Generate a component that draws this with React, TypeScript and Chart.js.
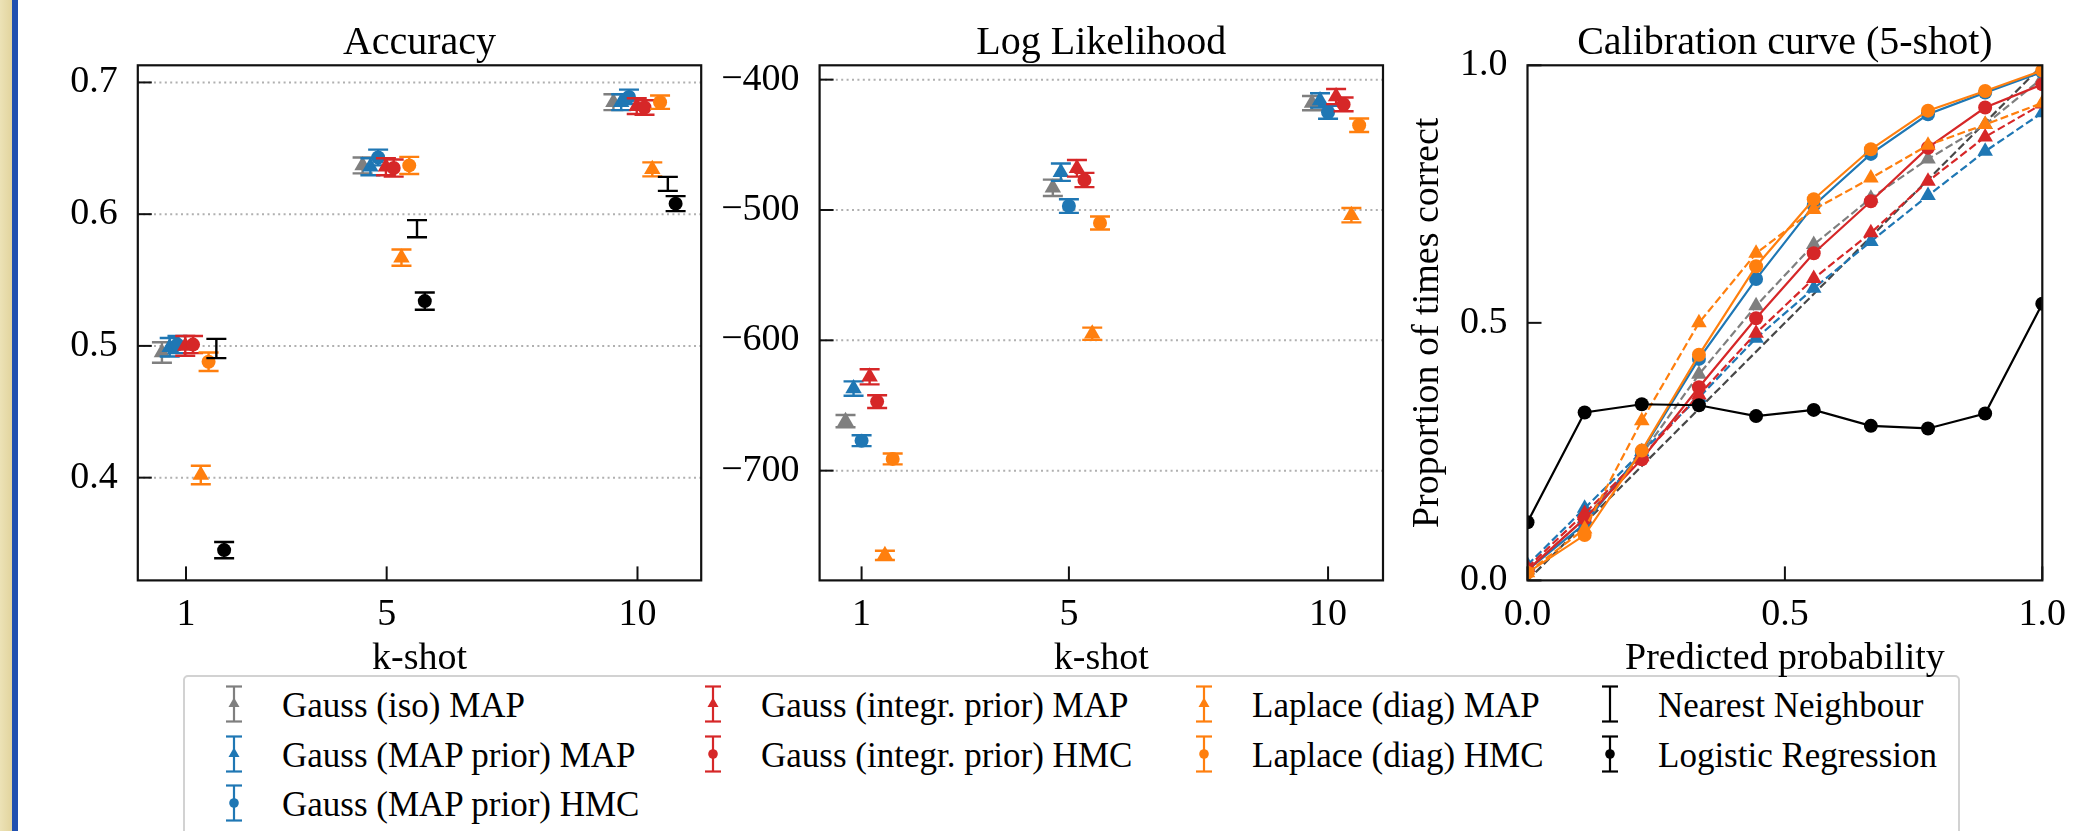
import React, { useEffect, useRef } from 'react';
import { Chart, registerables } from 'chart.js';

Chart.register(...registerables);

const FONT = "'Liberation Serif', 'Times New Roman', Times, serif";
const GRAY = '#7f7f7f';
const BLUE = '#1f77b4';
const RED = '#d62728';
const ORANGE = '#ff7f0e';
const BLACK = '#000000';

// ---------------- data ----------------
const kShots = [1, 5, 10];
const accOffsets = [-0.48, -0.325, -0.17, -0.015, 0.14, 0.295, 0.45, 0.605, 0.76];
const llOffsets = [-0.31, -0.155, 0, 0.155, 0.3, 0.45, 0.6];

const kShotTicks = [1, 5, 10];
const accYTicks = [0.4, 0.5, 0.6, 0.7];
const llYTicks = [-700, -600, -500, -400];
const calTicks = [0, 0.5, 1];

const seriesLabels = [
  'Gauss (iso) MAP',
  'Gauss (MAP prior) MAP',
  'Gauss (MAP prior) HMC',
  'Gauss (integr. prior) MAP',
  'Gauss (integr. prior) HMC',
  'Laplace (diag) MAP',
  'Laplace (diag) HMC',
  'Nearest Neighbour',
  'Logistic Regression',
];

// Accuracy (k = 1, 5, 10)
const accGaussIsoMap = [0.495, 0.637, 0.685];
const accGaussMapPriorMap = [0.499, 0.636, 0.685];
const accGaussMapPriorHmc = [0.501, 0.643, 0.689];
const accGaussIntegrMap = [0.5, 0.636, 0.682];
const accGaussIntegrHmc = [0.501, 0.635, 0.681];
const accLaplaceMap = [0.402, 0.567, 0.634];
const accLaplaceHmc = [0.488, 0.637, 0.685];
const accNearestNeighbour = [0.498, 0.589, 0.623];
const accLogReg = [0.345, 0.534, 0.608];

const accErrGaussIsoMap = [0.0078, 0.006, 0.006];
const accErrGaussMapPriorMap = [0.007, 0.0065, 0.006];
const accErrGaussMapPriorHmc = [0.0065, 0.006, 0.0055];
const accErrGaussIntegrMap = [0.0075, 0.0065, 0.006];
const accErrGaussIntegrHmc = [0.0065, 0.0065, 0.0055];
const accErrLaplaceMap = [0.007, 0.0062, 0.0053];
const accErrLaplaceHmc = [0.007, 0.0065, 0.0051];
const accErrNearestNeighbour = [0.0073, 0.0065, 0.0053];
const accErrLogReg = [0.0062, 0.0065, 0.0057];

// Log likelihood (k = 1, 5, 10)
const llGaussIsoMap = [-662, -483, -418];
const llGaussMapPriorMap = [-637, -471, -416];
const llGaussMapPriorHmc = [-677, -497, -425];
const llGaussIntegrMap = [-628, -468, -413];
const llGaussIntegrHmc = [-647, -477, -419];
const llLaplaceMap = [-765, -595, -504];
const llLaplaceHmc = [-691, -510, -435];

const llErrGaussIsoMap = [4.7, 6.3, 5.5];
const llErrGaussMapPriorMap = [5.5, 6.7, 5.5];
const llErrGaussMapPriorHmc = [4.2, 5.2, 5.0];
const llErrGaussIntegrMap = [5.8, 6.4, 5.8];
const llErrGaussIntegrHmc = [4.9, 5.5, 5.3];
const llErrLaplaceMap = [3.5, 4.7, 5.5];
const llErrLaplaceHmc = [4.2, 5.0, 5.2];

// Calibration curve (5-shot)
const calBins = [0, 0.111, 0.222, 0.333, 0.444, 0.556, 0.667, 0.778, 0.889, 1.0];
const calGaussIsoMap = [0.02, 0.12, 0.245, 0.4, 0.533, 0.652, 0.742, 0.818, 0.885, 0.975];
const calGaussMapPriorMap = [0.03, 0.14, 0.25, 0.355, 0.47, 0.567, 0.658, 0.747, 0.833, 0.908];
const calGaussMapPriorHmc = [0.02, 0.11, 0.25, 0.43, 0.585, 0.728, 0.828, 0.905, 0.947, 0.987];
const calGaussIntegrMap = [0.025, 0.13, 0.24, 0.36, 0.48, 0.586, 0.675, 0.775, 0.861, 0.925];
const calGaussIntegrHmc = [0.02, 0.12, 0.235, 0.375, 0.509, 0.635, 0.736, 0.84, 0.918, 0.963];
const calLaplaceMap = [0.015, 0.1, 0.31, 0.5, 0.635, 0.72, 0.781, 0.845, 0.885, 0.927];
const calLaplaceHmc = [0.015, 0.088, 0.252, 0.438, 0.61, 0.74, 0.837, 0.912, 0.95, 0.99];
const calLogReg = [0.113, 0.326, 0.342, 0.34, 0.319, 0.331, 0.3, 0.295, 0.324, 0.537];
const calDiagX = [0, 1];
const calDiagY = [0, 1];

// ---------------- styling ----------------
type Marker = 'triangle' | 'circle' | 'none';
const seriesColors = [GRAY, BLUE, BLUE, RED, RED, ORANGE, ORANGE, BLACK, BLACK];
const seriesMarkers: Marker[] = ['triangle', 'triangle', 'circle', 'triangle', 'circle', 'triangle', 'circle', 'none', 'circle'];

const accValues = [accGaussIsoMap, accGaussMapPriorMap, accGaussMapPriorHmc, accGaussIntegrMap, accGaussIntegrHmc, accLaplaceMap, accLaplaceHmc, accNearestNeighbour, accLogReg];
const accErrors = [accErrGaussIsoMap, accErrGaussMapPriorMap, accErrGaussMapPriorHmc, accErrGaussIntegrMap, accErrGaussIntegrHmc, accErrLaplaceMap, accErrLaplaceHmc, accErrNearestNeighbour, accErrLogReg];
const llValues = [llGaussIsoMap, llGaussMapPriorMap, llGaussMapPriorHmc, llGaussIntegrMap, llGaussIntegrHmc, llLaplaceMap, llLaplaceHmc];
const llErrors = [llErrGaussIsoMap, llErrGaussMapPriorMap, llErrGaussMapPriorHmc, llErrGaussIntegrMap, llErrGaussIntegrHmc, llErrLaplaceMap, llErrLaplaceHmc];
const calValues = [calGaussIsoMap, calGaussMapPriorMap, calGaussMapPriorHmc, calGaussIntegrMap, calGaussIntegrHmc, calLaplaceMap, calLaplaceHmc, calLogReg];
const calSeriesIdx = [0, 1, 2, 3, 4, 5, 6, 8];

const CANVAS_H = 700;
const X_AXIS_H = 119.6;
const TICK_FONT = 38;
const LABEL_FONT = 38;
const TITLE_FONT = 40;

const mplPlugin = {
  id: 'mpl',
  beforeDatasetsDraw(chart: any, _a: any, opts: any) {
    if (!opts || !opts.grid) return;
    const { ctx, chartArea: a } = chart;
    const ys = chart.scales.y;
    ctx.save();
    ctx.strokeStyle = '#b0b0b0';
    ctx.lineWidth = 2;
    ctx.setLineDash([2, 3.4]);
    ys.ticks.forEach((t: any) => {
      const py = ys.getPixelForValue(t.value);
      ctx.beginPath();
      ctx.moveTo(a.left, py);
      ctx.lineTo(a.right, py);
      ctx.stroke();
    });
    ctx.restore();
  },
  beforeDatasetDraw(chart: any, args: any) {
    const ds: any = chart.data.datasets[args.index];
    if (!ds.errors) return;
    const { ctx } = chart;
    const ys = chart.scales.y;
    const cap = 10;
    ctx.save();
    ctx.strokeStyle = ds.borderColor;
    ctx.lineWidth = 2.4;
    ctx.setLineDash([]);
    args.meta.data.forEach((el: any, i: number) => {
      const p = ds.data[i];
      const e = ds.errors[i];
      const y1 = ys.getPixelForValue(p.y - e);
      const y2 = ys.getPixelForValue(p.y + e);
      const x = el.x;
      ctx.beginPath();
      ctx.moveTo(x, y1);
      ctx.lineTo(x, y2);
      ctx.moveTo(x - cap, y1);
      ctx.lineTo(x + cap, y1);
      ctx.moveTo(x - cap, y2);
      ctx.lineTo(x + cap, y2);
      ctx.stroke();
    });
    ctx.restore();
  },
  afterDraw(chart: any) {
    const { ctx, chartArea: a } = chart;
    const xs = chart.scales.x;
    const ys = chart.scales.y;
    ctx.save();
    ctx.strokeStyle = '#111';
    ctx.lineWidth = 2;
    ctx.setLineDash([]);
    const len = 14;
    xs.ticks.forEach((t: any) => {
      const px = xs.getPixelForValue(t.value);
      ctx.beginPath();
      ctx.moveTo(px, a.bottom);
      ctx.lineTo(px, a.bottom - len);
      ctx.stroke();
    });
    ys.ticks.forEach((t: any) => {
      const py = ys.getPixelForValue(t.value);
      ctx.beginPath();
      ctx.moveTo(a.left, py);
      ctx.lineTo(a.left + len, py);
      ctx.stroke();
    });
    ctx.lineWidth = 2.2;
    ctx.strokeRect(a.left, a.top, a.right - a.left, a.bottom - a.top);
    ctx.restore();
  },
};

function xAxis(min: number, max: number, ticks: number[], fmt: (v: number) => string, title: string) {
  return {
    type: 'linear',
    min,
    max,
    grid: { display: false, drawTicks: false },
    border: { display: false },
    afterBuildTicks: (s: any) => {
      s.ticks = ticks.map((v) => ({ value: v }));
    },
    afterFit: (s: any) => {
      s.height = X_AXIS_H;
    },
    ticks: {
      color: '#000',
      font: { family: FONT, size: TICK_FONT, lineHeight: 1.2 },
      padding: 12.3,
      autoSkip: false,
      maxRotation: 0,
      callback: (v: any) => fmt(Number(v)),
    },
    title: {
      display: true,
      text: title,
      color: '#000',
      font: { family: FONT, size: LABEL_FONT, lineHeight: 1.2 },
      padding: { top: 0, bottom: 18.3 },
    },
  };
}

function yAxis(min: number, max: number, ticks: number[], fmt: (v: number) => string, width: number, title?: string) {
  return {
    type: 'linear',
    min,
    max,
    grid: { display: false, drawTicks: false },
    border: { display: false },
    afterBuildTicks: (s: any) => {
      s.ticks = ticks.map((v) => ({ value: v }));
    },
    afterFit: (s: any) => {
      s.width = width;
    },
    ticks: {
      color: '#000',
      font: { family: FONT, size: TICK_FONT, lineHeight: 1.2 },
      padding: 20,
      autoSkip: false,
      callback: (v: any) => fmt(Number(v)),
    },
    title: title
      ? {
          display: true,
          text: title,
          color: '#000',
          font: { family: FONT, size: LABEL_FONT, lineHeight: 1.2 },
          padding: { top: 14.9, bottom: 0 },
        }
      : { display: false },
  };
}

function baseOptions(title: string, padRight: number, grid: boolean) {
  return {
    animation: false,
    responsive: false,
    maintainAspectRatio: false,
    devicePixelRatio: 1,
    events: [],
    layout: { padding: { left: 0, right: padRight, top: 0, bottom: 0 } },
    plugins: {
      legend: { display: false },
      tooltip: { enabled: false },
      title: {
        display: true,
        text: title,
        color: '#000',
        fullSize: false,
        font: { family: FONT, size: TITLE_FONT, weight: 'normal', lineHeight: 1 },
        padding: { top: 23.1, bottom: 2.2 },
      },
      mpl: { grid },
    },
  };
}

const fmtInt = (v: number) => String(v);
const fmt1 = (v: number) => v.toFixed(1);
const fmtMinus = (v: number) => (v < 0 ? '\u2212' + String(Math.abs(v)) : String(v));

function errorDatasets(values: number[][], errors: number[][], offsets: number[], idxs: number[]) {
  return values.map((vals, j) => {
    const si = idxs[j];
    const marker = seriesMarkers[si];
    return {
      label: seriesLabels[si],
      data: kShots.map((k, i) => ({ x: k + offsets[j], y: vals[i] })),
      errors: errors[j],
      backgroundColor: seriesColors[si],
      borderColor: seriesColors[si],
      pointBackgroundColor: seriesColors[si],
      pointBorderWidth: 0,
      pointStyle: marker === 'triangle' ? 'triangle' : 'circle',
      pointRadius: marker === 'none' ? 0 : marker === 'triangle' ? 9.5 : 7,
      showLine: false,
      order: -j,
    };
  });
}

function accuracyConfig() {
  const idxs = [0, 1, 2, 3, 4, 5, 6, 7, 8];
  return {
    type: 'scatter',
    data: { datasets: errorDatasets(accValues, accErrors, accOffsets, idxs) },
    options: {
      ...baseOptions('Accuracy', 740 - 701.2, true),
      scales: {
        x: xAxis(0.039, 11.27, kShotTicks, fmtInt, 'k-shot'),
        y: yAxis(0.322, 0.713, accYTicks, fmt1, 137.8),
      },
    },
    plugins: [mplPlugin],
  };
}

function llConfig() {
  const idxs = [0, 1, 2, 3, 4, 5, 6];
  return {
    type: 'scatter',
    data: { datasets: errorDatasets(llValues, llErrors, llOffsets, idxs) },
    options: {
      ...baseOptions('Log Likelihood', 720 - (1383 - 700), true),
      scales: {
        x: xAxis(0.19, 11.06, kShotTicks, fmtInt, 'k-shot'),
        y: yAxis(-784.2, -389.0, llYTicks, fmtMinus, 119.6),
      },
    },
    plugins: [mplPlugin],
  };
}

function calConfig() {
  const datasets: any[] = [
    {
      label: 'Perfectly calibrated',
      data: calDiagX.map((x, i) => ({ x, y: calDiagY[i] })),
      borderColor: 'rgba(40,40,40,0.85)',
      backgroundColor: 'rgba(40,40,40,0.85)',
      borderDash: [8, 3.5],
      borderWidth: 2.2,
      pointRadius: 0,
      showLine: true,
      order: 0,
    },
  ];
  calValues.forEach((vals, j) => {
    const si = calSeriesIdx[j];
    const marker = seriesMarkers[si];
    datasets.push({
      label: seriesLabels[si],
      data: calBins.map((x, i) => ({ x, y: vals[i] })),
      borderColor: seriesColors[si],
      backgroundColor: seriesColors[si],
      pointBackgroundColor: seriesColors[si],
      pointBorderWidth: 0,
      borderWidth: 2.2,
      borderDash: marker === 'triangle' ? [8, 3.5] : [],
      pointStyle: marker === 'triangle' ? 'triangle' : 'circle',
      pointRadius: marker === 'triangle' ? 9 : 7,
      showLine: true,
      tension: 0,
      order: -(j + 1),
    });
  });
  return {
    type: 'scatter',
    data: { datasets },
    options: {
      ...baseOptions('Calibration curve (5-shot)', 720 - (2042.3 - 1390), false),
      scales: {
        x: xAxis(0, 1, calTicks, fmt1, 'Predicted probability'),
        y: yAxis(0, 1, calTicks, fmt1, 137.5, 'Proportion of times correct'),
      },
    },
    plugins: [mplPlugin],
  };
}

function ChartBox({ left, width, make }: { left: number; width: number; make: () => any }) {
  const ref = useRef<HTMLCanvasElement>(null);
  useEffect(() => {
    const chart = new Chart(ref.current as HTMLCanvasElement, make());
    return () => chart.destroy();
  }, []);
  return (
    <canvas
      ref={ref}
      width={width}
      height={CANVAS_H}
      style={{ position: 'absolute', left, top: 0, width, height: CANVAS_H }}
    />
  );
}

// legend layout
const legendColumns = [[0, 1, 2], [3, 4], [5, 6], [7, 8]];
const LEG_TEXT_X = [282, 761, 1252, 1658];
const LEG_HANDLE_DX = 48.5;
const LEG_ROW_Y = [704, 753.5, 803];
const LEG_FONT = 35;

function Handle({ color, marker }: { color: string; marker: Marker }) {
  return (
    <svg width={24} height={40} viewBox="0 0 24 40" style={{ display: 'block' }}>
      <g stroke={color} strokeWidth={2.2} fill="none">
        <line x1={12} y1={2.5} x2={12} y2={37.5} />
        <line x1={4} y1={2.5} x2={20} y2={2.5} />
        <line x1={4} y1={37.5} x2={20} y2={37.5} />
      </g>
      {marker === 'triangle' && <polygon points="12,13.5 6.5,23 17.5,23" fill={color} />}
      {marker === 'circle' && <circle cx={12} cy={20} r={4.8} fill={color} />}
    </svg>
  );
}

function Legend() {
  const items: any[] = [];
  legendColumns.forEach((col, c) => {
    col.forEach((si, r) => {
      const y = LEG_ROW_Y[r];
      const tx = LEG_TEXT_X[c];
      items.push(
        <div key={'h' + si} style={{ position: 'absolute', left: tx - LEG_HANDLE_DX - 12, top: y - 20, width: 24, height: 40 }}>
          <Handle color={seriesColors[si]} marker={seriesMarkers[si]} />
        </div>
      );
      items.push(
        <div
          key={'t' + si}
          style={{
            position: 'absolute',
            left: tx,
            top: y + 14 - 31.8,
            fontFamily: FONT,
            fontSize: LEG_FONT,
            lineHeight: '40px',
            color: '#000',
            whiteSpace: 'nowrap',
          }}
        >
          {seriesLabels[si]}
        </div>
      );
    });
  });
  return (
    <>
      <div
        style={{
          position: 'absolute',
          left: 183,
          top: 675,
          width: 1777,
          height: 200,
          border: '2.5px solid #d2d2d2',
          borderRadius: 5,
          boxSizing: 'border-box',
          background: '#fff',
        }}
      />
      {items}
    </>
  );
}

export default function App() {
  return (
    <div
      style={{
        position: 'fixed',
        left: 0,
        top: 0,
        width: 2081,
        height: 831,
        overflow: 'hidden',
        background: '#ffffff',
      }}
    >
      <div style={{ position: 'absolute', left: 0, top: 0, width: 12, height: 831, background: 'linear-gradient(90deg, #ece2b6, #e2d49e)' }} />
      <div style={{ position: 'absolute', left: 11.5, top: 0, width: 6, height: 831, background: '#2150b0' }} />
      <Legend />
      <ChartBox left={0} width={740} make={accuracyConfig} />
      <ChartBox left={700} width={720} make={llConfig} />
      <ChartBox left={1390} width={720} make={calConfig} />
    </div>
  );
}
